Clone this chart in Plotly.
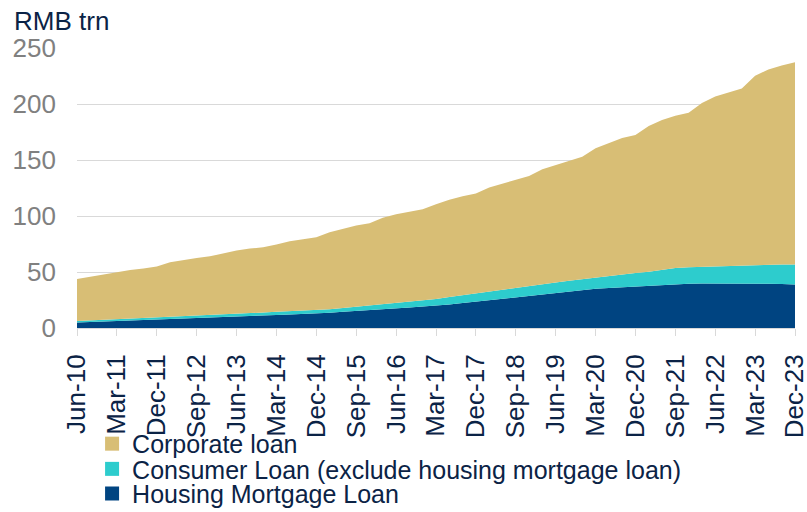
import plotly.graph_objects as go

quarters = ["Jun-10","Sep-10","Dec-10","Mar-11","Jun-11","Sep-11","Dec-11","Mar-12","Jun-12","Sep-12",
            "Dec-12","Mar-13","Jun-13","Sep-13","Dec-13","Mar-14","Jun-14","Sep-14","Dec-14","Mar-15",
            "Jun-15","Sep-15","Dec-15","Mar-16","Jun-16","Sep-16","Dec-16","Mar-17","Jun-17","Sep-17",
            "Dec-17","Mar-18","Jun-18","Sep-18","Dec-18","Mar-19","Jun-19","Sep-19","Dec-19","Mar-20",
            "Jun-20","Sep-20","Dec-20","Mar-21","Jun-21","Sep-21","Dec-21","Mar-22","Jun-22","Sep-22",
            "Dec-22","Mar-23","Jun-23","Sep-23","Dec-23"]

housing_mortgage = [4.8, 5.3, 5.8, 6.3, 6.8, 7.3, 7.8, 8.1, 8.4, 8.7,
                    9.2, 9.7, 10.2, 10.7, 11.2, 11.7, 12.1, 12.5, 12.9, 13.6,
                    14.4, 15.3, 16.1, 16.9, 17.7, 18.4, 19.1, 19.8, 21.0, 22.3,
                    23.6, 25.0, 26.4, 27.8, 29.1, 30.4, 31.7, 32.8, 33.9, 35.0,
                    35.8, 36.5, 37.1, 37.5, 38.4, 39.2, 39.5, 39.7, 39.8, 39.8,
                    39.8, 39.8, 39.6, 39.3, 38.9]

consumer_loan = [1.4, 1.4, 1.5, 1.5, 1.6, 1.7, 1.8, 1.9, 2.0, 2.1,
                 2.2, 2.3, 2.4, 2.5, 2.6, 2.7, 2.8, 2.9, 3.0, 3.2,
                 3.4, 3.6, 4.0, 4.5, 5.0, 5.4, 5.8, 6.2, 6.6, 7.0,
                 7.3, 7.7, 8.0, 8.4, 8.6, 8.8, 9.0, 9.4, 9.8, 10.2,
                 10.8, 11.4, 12.0, 12.8, 13.6, 14.4, 14.7, 14.9, 15.2, 15.6,
                 16.0, 16.5, 17.0, 17.5, 17.9]

corporate_loan = [37.5, 39.1, 40.3, 41.6, 43.4, 44.2, 45.2, 48.6, 50.4, 51.8,
                  52.6, 54.7, 56.5, 57.7, 58.3, 60.1, 62.6, 63.9, 65.2, 68.8,
                  70.8, 72.7, 73.5, 77.1, 78.8, 80.2, 81.1, 84.4, 87.0, 88.3,
                  89.1, 92.7, 94.6, 96.4, 98.1, 102.6, 105.0, 107.1, 109.2, 115.2,
                  118.8, 121.8, 123.3, 130.1, 133.8, 135.8, 137.9, 146.2, 151.7, 154.9,
                  158.1, 169.0, 174.1, 177.5, 180.5]

tick_labels = quarters[::3]
y_ticks = [0, 50, 100, 150, 200, 250]

series_names = ["Housing Mortgage Loan", "Consumer Loan (exclude housing mortgage loan)", "Corporate loan"]
series_values = [housing_mortgage, consumer_loan, corporate_loan]
series_colors = ["#004481", "#2DCCCD", "#D8BE75"]

NAVY_TEXT = "#0B2346"
FONT = "Liberation Sans, Arial, sans-serif"

fig = go.Figure()
for name, vals, col in zip(series_names, series_values, series_colors):
    fig.add_trace(go.Scatter(
        x=quarters, y=vals, name=name, stackgroup="one", mode="lines",
        line=dict(width=0, color=col), fillcolor=col, showlegend=False,
        hoverinfo="x+y+name"))

# legend entries (one legend each, top to bottom: corporate, consumer, housing)
legend_order = [2, 1, 0]
legend_keys = ["legend", "legend2", "legend3"]
legend_y = [-0.414, -0.504, -0.592]
for key, idx in zip(legend_keys, legend_order):
    fig.add_trace(go.Scatter(
        x=[None], y=[None], mode="markers", name=series_names[idx],
        marker=dict(symbol="square", size=14, color=series_colors[idx]),
        legend=key, showlegend=True))

legend_common = dict(x=0.021, xanchor="left", yanchor="middle", bgcolor="rgba(0,0,0,0)",
                     borderwidth=0, font=dict(family=FONT, size=25, color=NAVY_TEXT),
                     itemclick=False, itemdoubleclick=False)

layout_legends = {k: dict(legend_common, y=ly) for k, ly in zip(legend_keys, legend_y)}

fig.update_layout(
    width=807, height=512,
    margin=dict(l=77, r=12, t=48, b=184, autoexpand=False),
    paper_bgcolor="white", plot_bgcolor="white",
    font=dict(family=FONT, size=26, color=NAVY_TEXT),
    xaxis=dict(
        type="category", range=[0, len(quarters) - 1],
        tickmode="array", tickvals=tick_labels, ticktext=tick_labels,
        tickangle=-90, tickfont=dict(family=FONT, size=26, color=NAVY_TEXT),
        ticks="outside", ticklen=7, tickcolor="#D9D9D9", tickwidth=1,
        showline=True, linecolor="#D9D9D9", linewidth=1,
        showgrid=False, zeroline=False, ticklabelstandoff=8),
    yaxis=dict(
        range=[0, 250], tickvals=y_ticks,
        tickfont=dict(family=FONT, size=26, color="#808080"),
        showgrid=True, gridcolor="#D9D9D9", gridwidth=1,
        zeroline=False, showline=False, ticks="", ticklabelstandoff=20),
    annotations=[dict(
        text="RMB trn", xref="paper", yref="paper", x=-0.09, y=1.098,
        xanchor="left", yanchor="middle", showarrow=False,
        font=dict(family=FONT, size=26, color=NAVY_TEXT))],
    hovermode="x unified",
    **layout_legends,
)

fig.write_html("out.html", config={"displayModeBar": False},
               post_script="document.body.style.margin='0';")
